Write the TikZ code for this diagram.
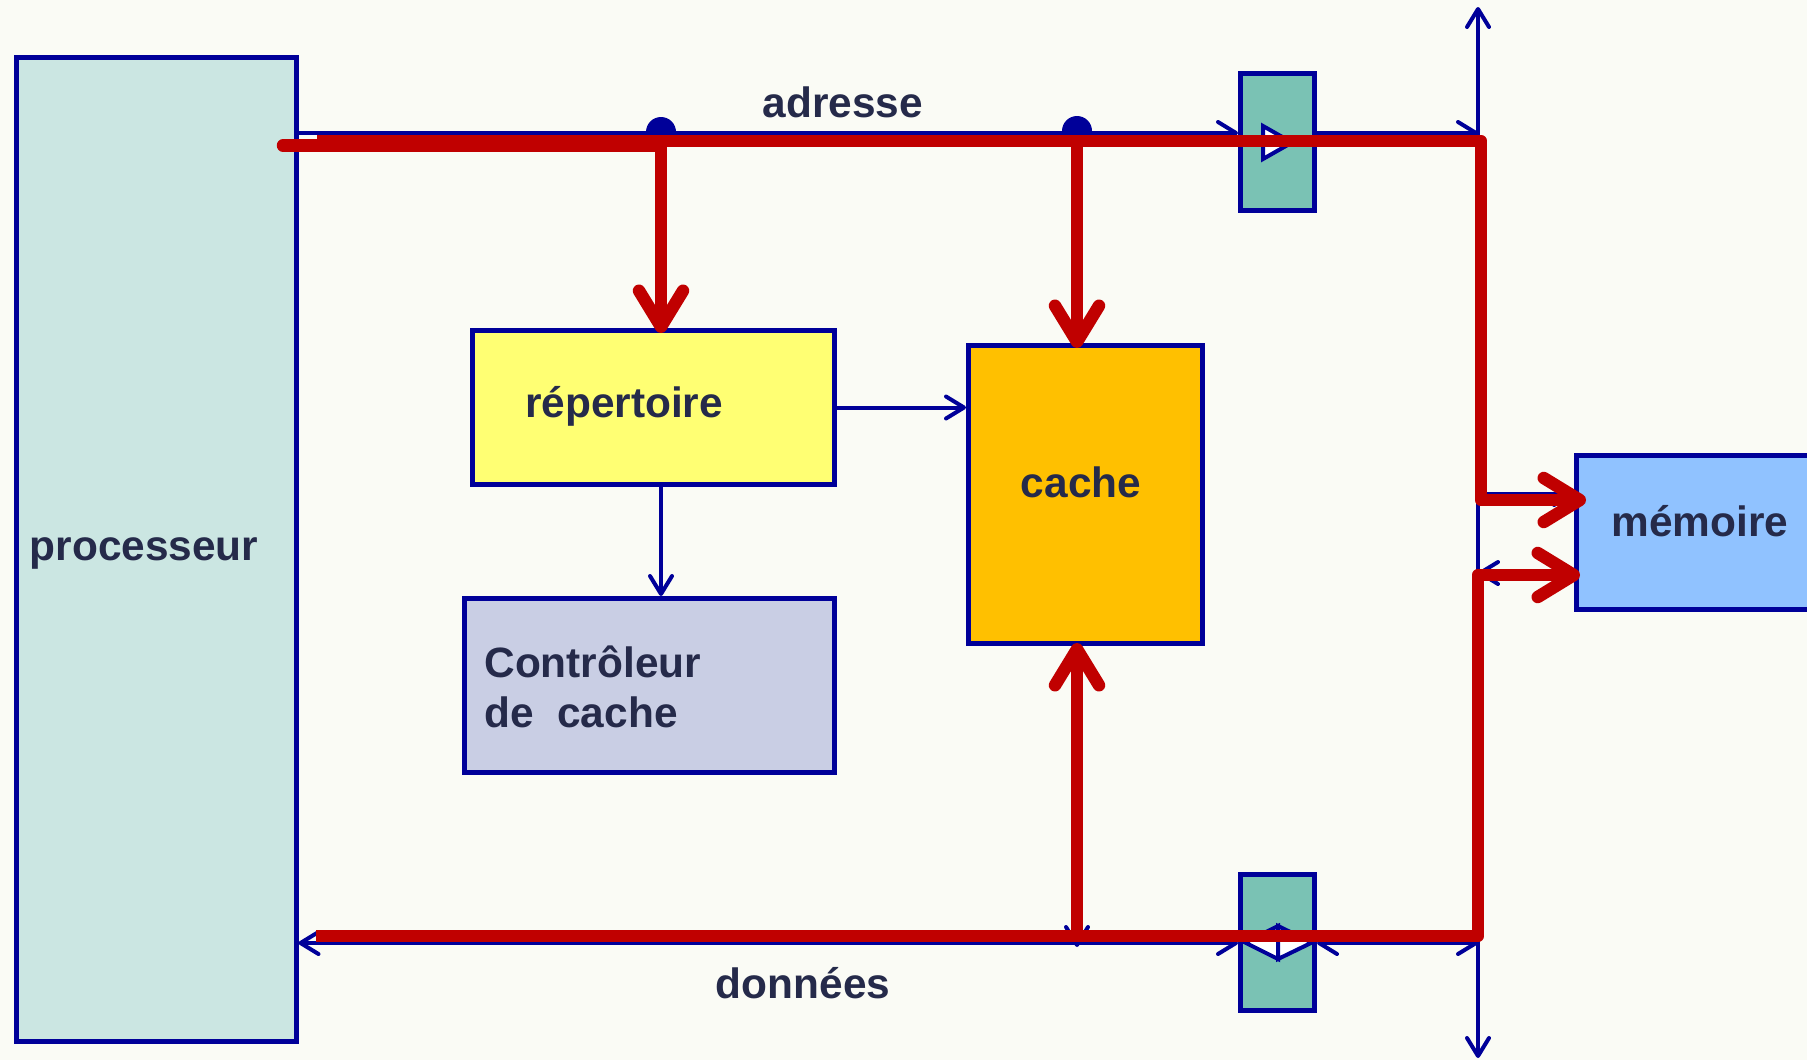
\documentclass[tikz,border=0pt]{standalone}
\usepackage{fontspec}
\setmainfont{Liberation Sans}
\usetikzlibrary{arrows.meta}
\definecolor{bg}{HTML}{FAFBF5}
\definecolor{busblue}{HTML}{000099}
\definecolor{busred}{HTML}{C00000}
\definecolor{txt}{HTML}{252A4A}
\definecolor{procfill}{HTML}{CBE6E2}
\definecolor{buffill}{HTML}{7AC2B4}
\definecolor{repfill}{HTML}{FFFF73}
\definecolor{cachefill}{HTML}{FFC000}
\definecolor{ctrlfill}{HTML}{C9CEE4}
\definecolor{memfill}{HTML}{90C2FF}
\tikzset{
  bluetip/.tip={Straight Barb[length=9pt,width=11pt,line cap=round,line join=round]},
  redtip/.tip={Straight Barb[length=18pt,width=22pt,line cap=round,line join=round]},
}
\begin{document}
\begin{tikzpicture}[x=0.5pt,y=-0.5pt,
  box/.style={draw=busblue,line width=2.5pt,inner sep=0pt,rectangle},
  lbl/.style={text=txt,font=\fontsize{21.2}{25}\selectfont\bfseries,inner sep=0pt},
  bl/.style={draw=busblue,line width=2pt,line cap=round},
  rd/.style={draw=busred,line width=6.25pt,line join=round},
  buf/.style={draw=busblue,line width=2pt,fill=white,line join=miter},
]
\fill[bg] (0,0) rectangle (1807,1060);
\clip (0,0) rectangle (1807,1060);

% functional blocks
\node[box,fill=procfill,minimum width=140pt,minimum height=492pt] (proc) at (156,549.5) {};
\node[box,fill=buffill,minimum width=37pt,minimum height=68.5pt] (bufA) at (1277.5,142) {};
\node[box,fill=buffill,minimum width=37pt,minimum height=68pt] (bufD) at (1277.5,942.5) {};
\node[box,fill=repfill,minimum width=181pt,minimum height=77pt] (rep) at (653.5,407.5) {};
\node[box,fill=ctrlfill,minimum width=185pt,minimum height=87pt] (ctrl) at (649.5,685.5) {};
\node[box,fill=cachefill,minimum width=117pt,minimum height=149pt] (cache) at (1085.5,494.5) {};
\node[box,fill=memfill,minimum width=132pt,minimum height=77pt] (mem) at (1708.5,532.5) {};

% bus levels and junctions
\coordinate (ay) at (0,133);
\coordinate (dy) at (0,943);
\coordinate (jA) at (661,132);
\coordinate (jB) at (1077,131);
\coordinate (busT) at (1478,7);
\coordinate (busB) at (1478,1058);
\coordinate (busA) at (1478,133);
\coordinate (busD) at (1478,943);
\coordinate (mIn) at (1478,494);
\coordinate (mOut) at (1478,573);

% address and data buses (blue)
\draw[bl,{bluetip}-{bluetip}] (busT) -- (busB);
\draw[bl,-{bluetip}] (proc.east |- ay) -- (bufA.west |- ay);
\draw[bl,-{bluetip}] (bufA.east |- ay) -- (busA);
\draw[bl,{bluetip}-{bluetip}] (proc.east |- dy) -- (bufD.west |- dy);
\draw[bl,{bluetip}-{bluetip}] (bufD.east |- dy) -- (busD);
\draw[bl,-{bluetip}] (rep.east) -- (rep.east -| cache.west);
\draw[bl,-{bluetip}] (rep.south -| jA) -- (ctrl.north -| jA);
\draw[bl,{bluetip}-{bluetip}] (cache.south -| jB) -- ([yshift=-2pt]jB |- dy);
\draw[bl,-{bluetip}] (mIn) -- (mIn -| mem.west);
\draw[bl,-{bluetip}] (mOut -| mem.west) -- (mOut);

% buffer symbols
\draw[buf] (1263,126) -- (1263,159) -- (1292,142.5) -- cycle;
\draw[buf] (1278,926) -- (1278,959) -- (1245,942.5) -- cycle;
\draw[buf] (1278,926) -- (1278,959) -- (1312,942.5) -- cycle;

% junction dots
\fill[busblue] (jA) circle[radius=7.5pt];
\fill[busblue] (jB) circle[radius=7.5pt];

% highlighted access path (red)
\coordinate (rS) at (317,141);
\coordinate (rS2) at (283,145.5);
\coordinate (rC1) at (1481,141);
\coordinate (rC2) at (1481,500);
\coordinate (dS) at (316,936);
\coordinate (dC1) at (1478,936);
\coordinate (dC2) at (1478,575);
\draw[rd,line cap=round] (rS2) -- (rS2 -| jA);
\draw[rd,-{redtip},shorten >=-6pt] (rS) -- (rC1) -- (rC2) -- (rC2 -| mem.west);
\draw[rd,-{redtip},shorten >=-2.5pt] (jA |- rS) -- (rep.north -| jA);
\draw[rd,-{redtip},shorten >=-2.5pt] (jB |- rS) -- (cache.north -| jB);
\draw[rd,-{redtip},shorten >=-3pt] (dS) -- (dC1) -- (dC2) -- (dC2 -| mem.west);
\draw[rd,-{redtip},shorten >=-1.5pt] (jB |- dS) -- (cache.south -| jB);

% labels
\node[lbl,anchor=base] (procT) at (144,560) {processeur};
\node[lbl,anchor=base] (repT) at (624,417) {répertoire};
\node[lbl,anchor=base] (cacheT) at (1081,497) {cache};
\node[lbl,anchor=base] (memT) at (1700,536) {mémoire};
\node[lbl,anchor=base west] (ctrlT1) at (484,677) {Contrôleur};
\node[lbl,anchor=base west] (ctrlT2) at (484,727) {de\ \ cache};
\node[lbl,anchor=base] (adrT) at (843,117) {adresse};
\node[lbl,anchor=base] (donT) at (803,998) {données};
\end{tikzpicture}
\end{document}
